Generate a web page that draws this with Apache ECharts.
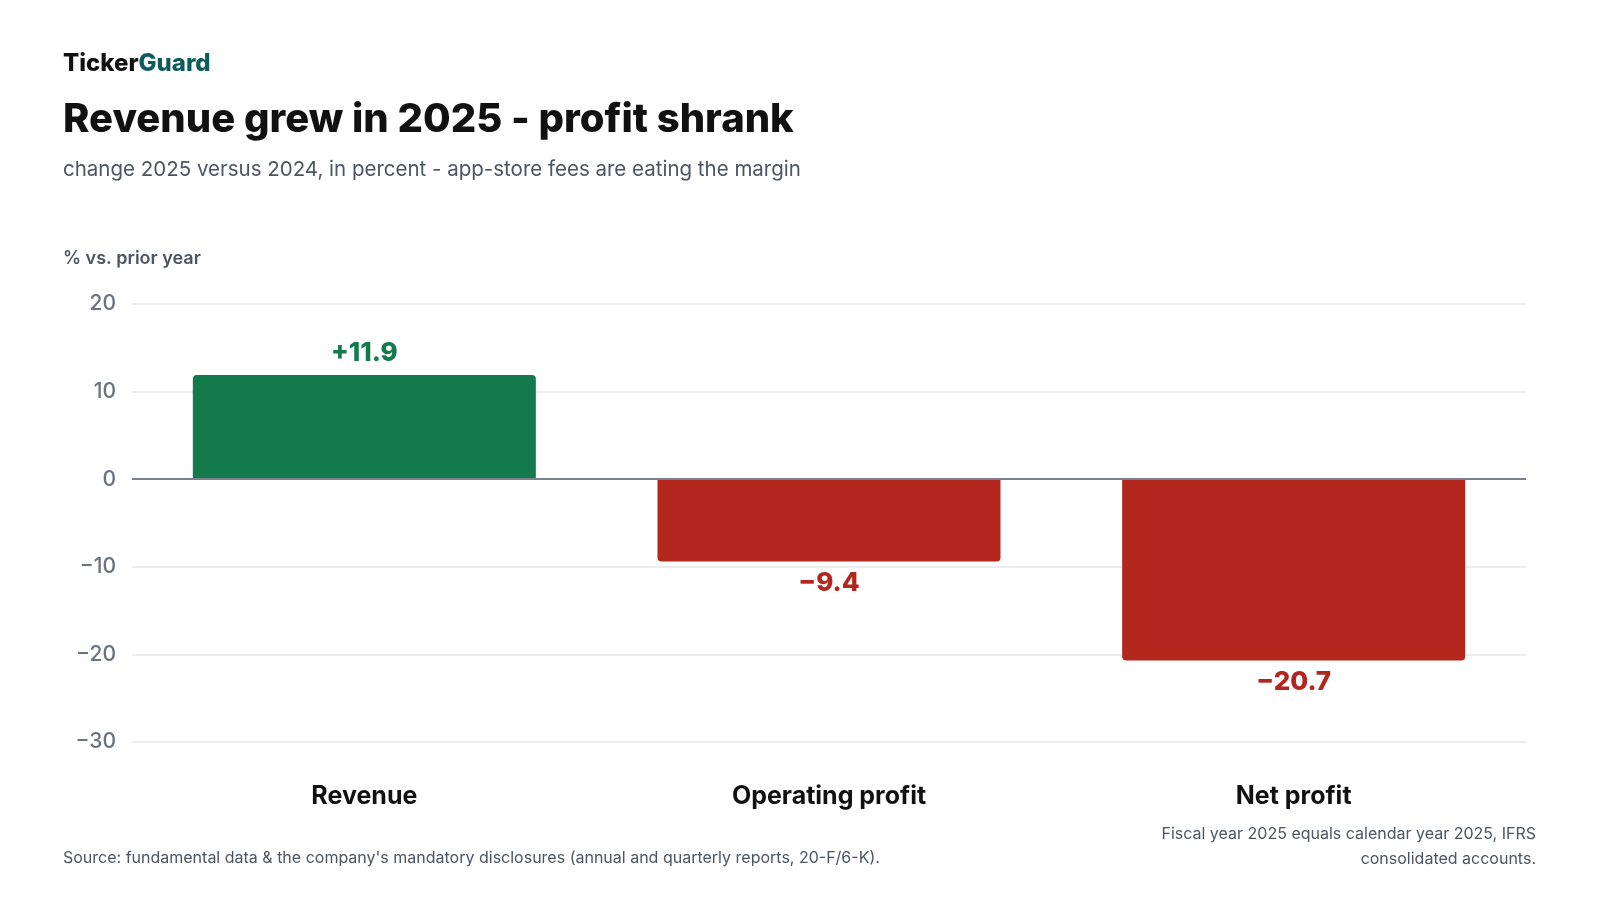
<!DOCTYPE html>
<html>
<head>
<meta charset="utf-8">
<script src="https://cdn.jsdelivr.net/npm/echarts@6/dist/echarts.min.js"></script>
<style>
    html, body { margin: 0; padding: 0; background: #fff; }
    #chart { width: 1600px; height: 900px; }
</style>
</head>
<body>
<div id="chart"></div>
<script>
const categories = ['Revenue', 'Operating profit', 'Net profit'];
const changes = [11.9, -9.4, -20.7];
const yTicks = [20, 10, 0, -10, -20, -30];

const GREEN = '#127a4b';
const RED = '#b3261e';
const FONT = 'Inter, "Noto Sans", sans-serif';

function fmtSigned(v) {
    if (v > 0) return '+' + v.toFixed(1);
    if (v < 0) return '\u2212' + Math.abs(v).toFixed(1);
    return '0';
}

let chart = echarts.init(document.getElementById('chart'));

let barData = changes.map(v => {
    let c = v >= 0 ? GREEN : RED;
    return {
        value: v,
        itemStyle: {
            color: c,
            borderRadius: v >= 0 ? [4, 4, 0, 0] : [0, 0, 4, 4]
        },
        label: {
            position: v >= 0 ? 'top' : 'bottom',
            color: c
        }
    };
});

let option = {
    backgroundColor: '#fff',
    textStyle: { fontFamily: FONT },
    grid: { left: 132, right: 74, top: 304, bottom: 158, containLabel: false },
    xAxis: {
        type: 'category',
        data: categories,
        axisLine: { show: false, onZero: false },
        axisTick: { show: false },
        axisLabel: {
            margin: 42,
            fontSize: 25,
            fontWeight: 'bold',
            color: '#111111',
            fontFamily: FONT
        }
    },
    yAxis: {
        type: 'value',
        min: yTicks[yTicks.length - 1],
        max: yTicks[0],
        interval: 10,
        axisLine: { show: false },
        axisTick: { show: false },
        splitLine: { lineStyle: { color: '#e5e7eb', width: 1.5 } },
        axisLabel: {
            margin: 16,
            fontSize: 21,
            fontWeight: 500,
            color: '#6b7280',
            fontFamily: FONT,
            formatter: v => String(v).replace('-', '\u2212')
        }
    },
    series: [{
        type: 'bar',
        data: barData,
        barWidth: 343,
        label: {
            show: true,
            distance: 9,
            fontSize: 26,
            fontWeight: 800,
            fontFamily: FONT,
            formatter: p => fmtSigned(p.value)
        },
        markLine: {
            silent: true,
            symbol: 'none',
            label: { show: false },
            lineStyle: { color: '#7c838e', width: 2, type: 'solid' },
            data: [{ yAxis: 0 }]
        }
    }],
    graphic: [
        {
            type: 'text', left: 63, top: 52,
            style: {
                text: '{a|Ticker}{b|Guard}',
                rich: {
                    a: { fontSize: 24, fontWeight: 800, fill: '#111111', fontFamily: FONT },
                    b: { fontSize: 24, fontWeight: 800, fill: '#0f5b5b', fontFamily: FONT }
                }
            }
        },
        {
            type: 'text', left: 63, top: 100,
            style: {
                text: 'Revenue grew in 2025 - profit shrank',
                fontSize: 40, fontWeight: 800, fill: '#111111', fontFamily: FONT
            }
        },
        {
            type: 'text', left: 63, top: 159,
            style: {
                text: 'change 2025 versus 2024, in percent - app-store fees are eating the margin',
                fontSize: 20.5, fill: '#4b5563', fontFamily: FONT
            }
        },
        {
            type: 'text', left: 63, top: 250,
            style: {
                text: '% vs. prior year',
                fontSize: 18, fontWeight: 600, fill: '#4b5563', fontFamily: FONT
            }
        },
        {
            type: 'text', left: 63, top: 850,
            style: {
                text: "Source: fundamental data & the company's mandatory disclosures (annual and quarterly reports, 20-F/6-K).",
                fontSize: 16, fill: '#4b5563', fontFamily: FONT
            }
        },
        {
            type: 'text', x: 1536, y: 822,
            style: {
                text: 'Fiscal year 2025 equals calendar year 2025, IFRS\nconsolidated accounts.',
                fontSize: 16, lineHeight: 24.5, align: 'right', verticalAlign: 'top',
                fill: '#4b5563', fontFamily: FONT
            }
        }
    ]
};

option && chart.setOption(option);
</script>
</body>
</html>
